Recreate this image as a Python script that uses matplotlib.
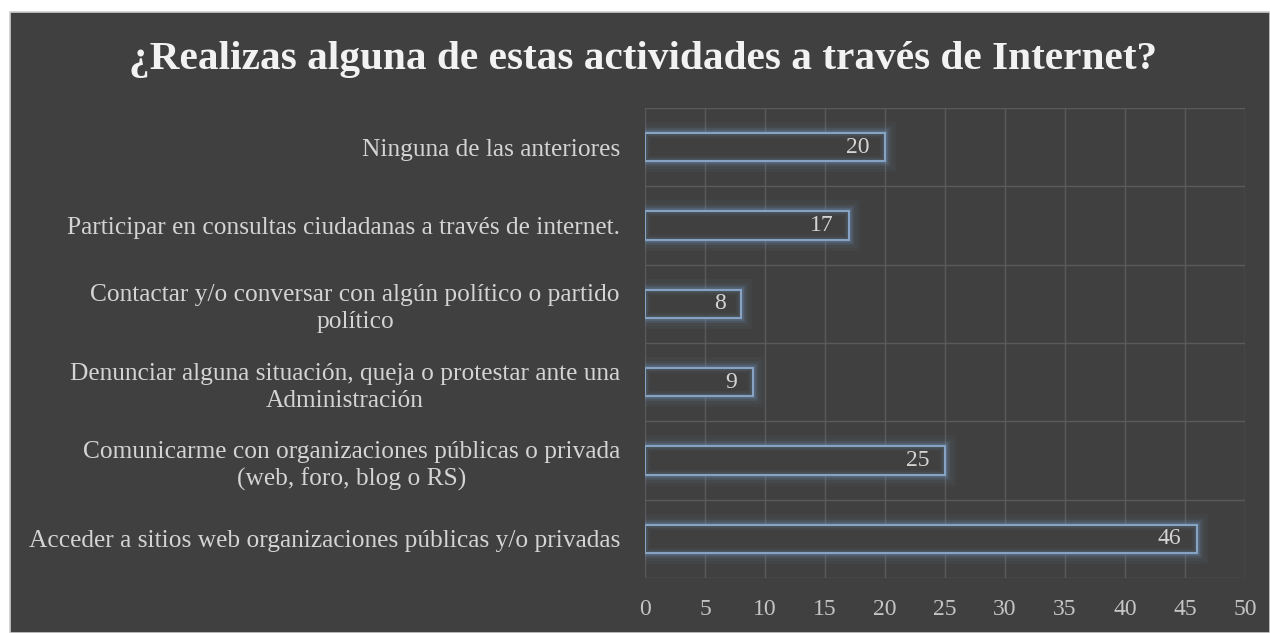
import numpy as np
import matplotlib
matplotlib.use('Agg')
import matplotlib.pyplot as plt
from matplotlib.patches import Rectangle

categories = ['Acceder a sitios web organizaciones públicas y/o privadas',
              'Comunicarme con organizaciones públicas o privada\n(web, foro, blog o RS)',
              'Denunciar alguna situación, queja o protestar ante una\nAdministración',
              'Contactar y/o conversar con algún político o partido\npolítico',
              'Participar en consultas ciudadanas a través de internet.',
              'Ninguna de las anteriores']
values = [46, 25, 9, 8, 17, 20]
xticks = [0, 5, 10, 15, 20, 25, 30, 35, 40, 45, 50]
title = '¿Realizas alguna de estas actividades a través de Internet?'

bg = '#404040'
edge = '#87a3c3'
glow = '#6f8fb3'
txt = '#d4d4d4'
tickc = '#c4c4c4'
gridc = '#5a5a5a'

plt.rcParams['font.family'] = ['Liberation Serif', 'DejaVu Serif']

fig = plt.figure(figsize=(12.7, 6.33), dpi=100)
fig.patch.set_facecolor('white')
# dark chart panel
panel = Rectangle((10/1270, 0), 1 - 10/1270, 1 - 12/633, transform=fig.transFigure,
                  facecolor=bg, edgecolor='#d0d0d0', linewidth=1.2, zorder=-10)
fig.add_artist(panel)

ax = fig.add_axes([645/1270, 55/633, 600/1270, 470/633])
ax.set_facecolor(bg)
y = np.arange(len(categories))

# gridlines
for t in xticks:
    ax.axvline(t, color=gridc, linewidth=1, zorder=1)
for b in np.arange(-0.5, len(categories), 1):
    ax.axhline(b, color=gridc, linewidth=1, zorder=1)

# glow under bars
for lw, a in [(16, 0.05), (11, 0.07), (7, 0.11), (4, 0.16)]:
    ax.barh(y, values, height=0.36, facecolor='none', edgecolor=glow, linewidth=lw, alpha=a, zorder=2)
ax.barh(y, values, height=0.36, facecolor=bg, edgecolor='none', zorder=3)
for lw, a in [(7, 0.08), (4, 0.14)]:
    ax.barh(y, values, height=0.36, facecolor='none', edgecolor=glow, linewidth=lw, alpha=a, zorder=3)
ax.barh(y, values, height=0.36, facecolor='none', edgecolor=edge, linewidth=1.5, zorder=4)

for yi, v in zip(y, values):
    ax.text(v - 1.3, yi, str(v), ha='right', va='center', color=txt, fontsize=17, zorder=5)

ax.set_xlim(0, 50)
ax.set_ylim(-0.5, len(categories) - 0.5)
ax.set_xticks(xticks)
ax.set_xticklabels([str(t) for t in xticks])
ax.set_yticks(y)
ax.set_yticklabels(categories)
for lab in ax.get_yticklabels():
    lab.set_multialignment('center')
    lab.set_linespacing(1.3)
ax.tick_params(axis='y', length=0, colors=txt, labelsize=18.3, pad=18)
ax.tick_params(axis='x', length=0, colors=tickc, labelsize=17, pad=15)
for s in ax.spines.values():
    s.set_visible(False)

fig.text(643/1270, 1 - 59/633, title, ha='center', va='center', color='#f2f2f2',
         fontsize=29.7, fontweight='bold')

fig.savefig('out.png', dpi=100, facecolor=fig.get_facecolor())
